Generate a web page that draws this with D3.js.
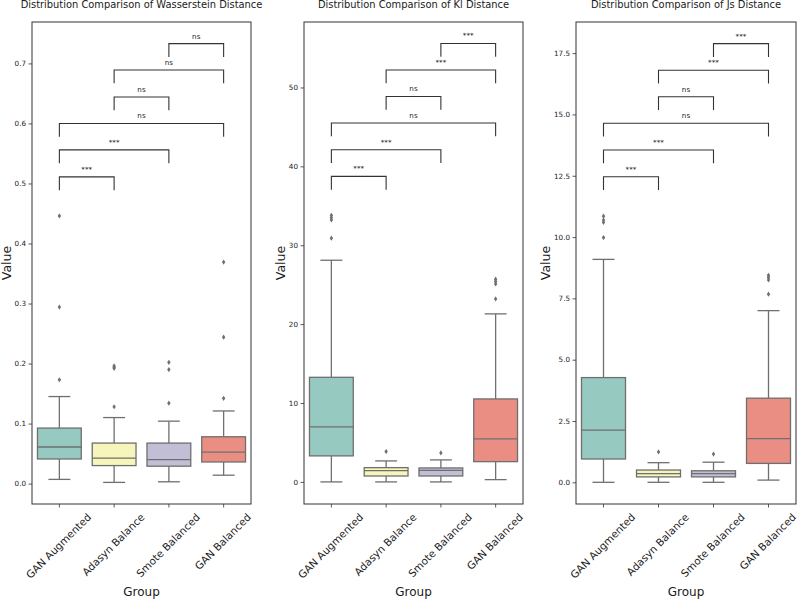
<!DOCTYPE html>
<html>
<head>
<meta charset="utf-8">
<script src="https://cdn.jsdelivr.net/npm/d3@7"></script>
<style>
  body { margin: 0; background: #fff; }
  text { font-family: "DejaVu Sans", sans-serif; fill: #1a1a1a; }
</style>
</head>
<body>
<svg id="chart" width="798" height="599"></svg>
<script>
// groups and colours (seaborn Set3, desaturated)
const groups = ["GAN Augmented", "Adasyn Balance", "Smote Balanced", "GAN Balanced"];
const boxColors = ["#96cac1", "#f5f5bc", "#c1bed6", "#ea8e83"];
const titles = [
  "Distribution Comparison of Wasserstein Distance",
  "Distribution Comparison of Kl Distance",
  "Distribution Comparison of Js Distance"
];

// box stats: [lower whisker, q1, median, q3, upper whisker]
const wassersteinStats = [
  [0.007, 0.041, 0.061, 0.0925, 0.145],
  [0.002, 0.030, 0.0425, 0.0675, 0.110],
  [0.003, 0.029, 0.040, 0.0675, 0.104],
  [0.014, 0.036, 0.0525, 0.078, 0.121]
];
const wassersteinOutliers = [
  [0.173, 0.294, 0.446],
  [0.128, 0.192, 0.194, 0.196],
  [0.134, 0.190, 0.202],
  [0.142, 0.244, 0.369]
];
const klStats = [
  [0.0, 3.3, 6.97, 13.26, 28.1],
  [0.0, 0.75, 1.43, 1.81, 2.66],
  [0.0, 0.75, 1.47, 1.77, 2.79],
  [0.29, 2.57, 5.45, 10.52, 21.3]
];
const klOutliers = [
  [30.9, 33.2, 33.5, 33.8],
  [3.84],
  [3.67],
  [23.2, 25.1, 25.4, 25.7]
];
const jsStats = [
  [0.0, 0.95, 2.13, 4.27, 9.09],
  [0.0, 0.22, 0.35, 0.50, 0.80],
  [0.0, 0.22, 0.35, 0.47, 0.82],
  [0.09, 0.77, 1.78, 3.43, 7.0]
];
const jsOutliers = [
  [9.98, 10.6, 10.7, 10.85],
  [1.24],
  [1.15],
  [7.67, 8.25, 8.35, 8.44]
];

// y axis domains and ticks
const wassersteinDomain = [-0.034, 0.769];
const klDomain = [-2.8, 58.3];
const jsDomain = [-0.885, 18.77];
const wassersteinTicks = [0, 0.1, 0.2, 0.3, 0.4, 0.5, 0.6, 0.7];
const klTicks = [0, 10, 20, 30, 40, 50];
const jsTicks = [0, 2.5, 5, 7.5, 10, 12.5, 15, 17.5];

// significance annotations
const pairs = [[0, 1], [0, 2], [0, 3], [1, 2], [1, 3], [2, 3]];
const wassersteinSig = ["***", "***", "ns", "ns", "ns", "ns"];
const klSig = ["***", "***", "ns", "ns", "***", "***"];
const jsSig = ["***", "***", "ns", "ns", "***", "***"];
const wassersteinLevels = [0.511, 0.556, 0.600, 0.644, 0.689, 0.733];
const klLevels = [38.73, 42.11, 45.49, 48.86, 52.21, 55.58];
const jsLevels = [12.46, 13.55, 14.64, 15.72, 16.80, 17.89];

const panels = [
  { title: titles[0], stats: wassersteinStats, outliers: wassersteinOutliers, domain: wassersteinDomain,
    ticks: wassersteinTicks, fmt: d3.format(".1f"), sig: wassersteinSig, levels: wassersteinLevels,
    x0: 32, x1: 251, labelX: 6 },
  { title: titles[1], stats: klStats, outliers: klOutliers, domain: klDomain,
    ticks: klTicks, fmt: d3.format("d"), sig: klSig, levels: klLevels,
    x0: 304, x1: 523, labelX: 280 },
  { title: titles[2], stats: jsStats, outliers: jsOutliers, domain: jsDomain,
    ticks: jsTicks, fmt: d3.format(".1f"), sig: jsSig, levels: jsLevels,
    x0: 576, x1: 796, labelX: 545 }
];

const svg = d3.select("#chart");
const plotTop = 22, plotBottom = 504;
const edge = "#6f6f6f";

panels.forEach(function (p) {
  const g = svg.append("g");
  const x = d3.scaleBand().domain(groups).range([p.x0, p.x1]).paddingInner(0).paddingOuter(0);
  const y = d3.scaleLinear().domain(p.domain).range([plotBottom, plotTop]);
  const bw = x.bandwidth() * 0.8;
  const legPx = 13.3;

  // title
  g.append("text")
    .attr("x", (p.x0 + p.x1) / 2)
    .attr("y", 8)
    .attr("text-anchor", "middle")
    .style("font-size", "9.9px")
    .text(p.title);

  // y axis
  const yAxis = g.append("g")
    .attr("transform", "translate(" + p.x0 + ",0)")
    .call(d3.axisLeft(y).tickValues(p.ticks).tickFormat(p.fmt).tickSize(3.5).tickPadding(2.5));
  yAxis.select(".domain").remove();
  yAxis.selectAll("line").attr("stroke", "#333").attr("stroke-width", 0.8);
  yAxis.selectAll("text").style("font-size", "7.2px").style("font-family", "DejaVu Sans").attr("fill", "#1a1a1a");

  // x axis ticks
  const xAxis = g.append("g")
    .attr("transform", "translate(0," + plotBottom + ")")
    .call(d3.axisBottom(x).tickSize(3.5).tickFormat(""));
  xAxis.select(".domain").remove();
  xAxis.selectAll("line").attr("stroke", "#333").attr("stroke-width", 0.8);

  // rotated category labels
  groups.forEach(function (name) {
    const t = g.append("text")
      .attr("text-anchor", "middle")
      .attr("dominant-baseline", "central")
      .style("font-size", "10.4px")
      .text(name);
    const w = t.node().getComputedTextLength();
    const h = 10.4 * 1.1;
    const cy = plotBottom + 7 + (w + h) * Math.SQRT1_2 / 2;
    t.attr("transform", "translate(" + (x(name) + x.bandwidth() / 2 - 1) + "," + cy + ") rotate(-45)");
  });

  // axis labels
  g.append("text")
    .attr("x", (p.x0 + p.x1) / 2)
    .attr("y", 596)
    .attr("text-anchor", "middle")
    .style("font-size", "12px")
    .text("Group");
  g.append("text")
    .attr("transform", "translate(" + (p.labelX + 4.5) + ",263) rotate(-90)")
    .attr("text-anchor", "middle")
    .style("font-size", "12.5px")
    .text("Value");

  // boxes
  p.stats.forEach(function (s, i) {
    const cx = x(groups[i]) + x.bandwidth() / 2;
    const bx = g.append("g");
    bx.append("line").attr("x1", cx).attr("x2", cx).attr("y1", y(s[0])).attr("y2", y(s[1]));
    bx.append("line").attr("x1", cx).attr("x2", cx).attr("y1", y(s[3])).attr("y2", y(s[4]));
    bx.append("line").attr("x1", cx - bw / 4).attr("x2", cx + bw / 4).attr("y1", y(s[0])).attr("y2", y(s[0]));
    bx.append("line").attr("x1", cx - bw / 4).attr("x2", cx + bw / 4).attr("y1", y(s[4])).attr("y2", y(s[4]));
    bx.append("rect")
      .attr("x", cx - bw / 2).attr("width", bw)
      .attr("y", y(s[3])).attr("height", y(s[1]) - y(s[3]))
      .attr("fill", boxColors[i]);
    bx.append("line").attr("x1", cx - bw / 2).attr("x2", cx + bw / 2).attr("y1", y(s[2])).attr("y2", y(s[2]));
    bx.selectAll("line, rect").attr("stroke", edge).attr("stroke-width", 1.3);

    bx.selectAll("path.outlier")
      .data(p.outliers[i])
      .enter()
      .append("path")
      .attr("class", "outlier")
      .attr("d", "M0,-2.6L1.7,0L0,2.6L-1.7,0Z")
      .attr("transform", function (d) { return "translate(" + cx + "," + y(d) + ")"; })
      .attr("fill", edge);
  });

  // significance brackets
  pairs.forEach(function (pr, k) {
    const xa = x(groups[pr[0]]) + x.bandwidth() / 2;
    const xb = x(groups[pr[1]]) + x.bandwidth() / 2;
    const yy = y(p.levels[k]);
    g.append("path")
      .attr("d", "M" + xa + "," + (yy + legPx) + "V" + yy + "H" + xb + "V" + (yy + legPx))
      .attr("fill", "none")
      .attr("stroke", "#333")
      .attr("stroke-width", 1.1);
    g.append("text")
      .attr("x", (xa + xb) / 2)
      .attr("y", yy - 5)
      .attr("text-anchor", "middle")
      .style("font-size", "7.2px")
      .text(p.sig[k]);
  });

  // frame
  g.append("rect")
    .attr("x", p.x0).attr("y", plotTop)
    .attr("width", p.x1 - p.x0).attr("height", plotBottom - plotTop)
    .attr("fill", "none")
    .attr("stroke", "#333")
    .attr("stroke-width", 1);
});
</script>
</body>
</html>
